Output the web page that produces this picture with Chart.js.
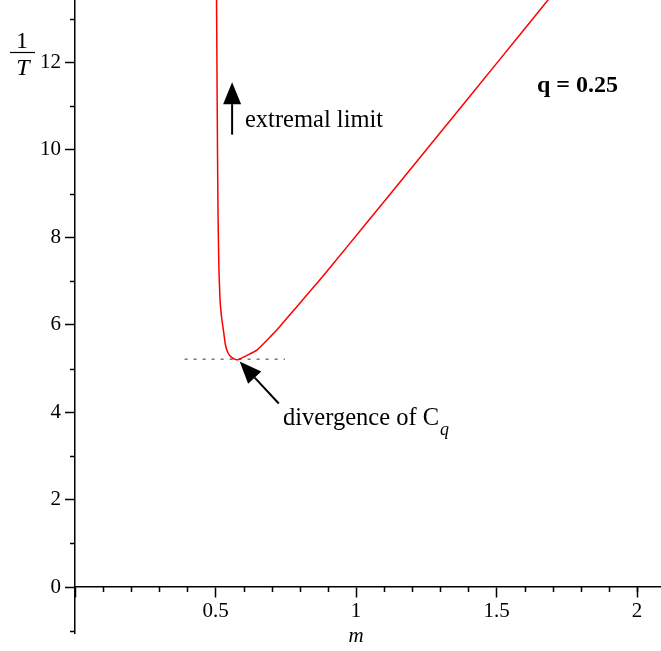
<!DOCTYPE html>
<html>
<head>
<meta charset="utf-8">
<script src="https://cdn.jsdelivr.net/npm/chart.js@4/dist/chart.umd.min.js"></script>
<style>
  html, body { margin: 0; padding: 0; background: #fff; }
  #wrap { width: 661px; height: 651px; }
</style>
</head>
<body>
<div id="wrap"><canvas id="plot"></canvas></div>
<script>
// curve 1/T against m for q = 0.25
const mValues = [0.503, 0.505, 0.507, 0.509, 0.512, 0.516, 0.522, 0.528, 0.535, 0.545, 0.558, 0.57, 0.58,
                 0.647, 0.718, 0.79, 0.87, 0.97, 1.1, 1.3, 1.5, 1.683, 1.76];
const invTValues = [14.0, 12.0, 10.0, 8.5, 7.3, 6.57, 6.15, 5.88, 5.55, 5.35, 5.25, 5.21, 5.2,
                    5.42, 5.88, 6.42, 7.02, 7.8, 8.82, 10.4, 11.98, 13.43, 14.04];

// dotted level of the minimum
const levelM = [0.39, 0.747];
const levelT = [5.21, 5.21];

// axis ticks
const xMajorTicks = [0.5, 1, 1.5, 2];
const xMinorTicks = [0.1, 0.2, 0.3, 0.4, 0.6, 0.7, 0.8, 0.9, 1.1, 1.2, 1.3, 1.4, 1.6, 1.7, 1.8, 1.9, 2.0];
const yMinorTicks = [-1, 1, 3, 5, 7, 9, 11, 13];

const serif = '"Liberation Serif", "DejaVu Serif", serif';

const toPoints = (xs, ys) => xs.map((x, i) => ({ x: x, y: ys[i] }));

function arrow(ctx, x1, y1, x2, y2, headLen, headW) {
    // shaft from (x1,y1) to tip (x2,y2)
    const a = Math.atan2(y2 - y1, x2 - x1);
    const bx = x2 - headLen * Math.cos(a), by = y2 - headLen * Math.sin(a);
    ctx.beginPath();
    ctx.moveTo(x1, y1);
    ctx.lineTo(bx, by);
    ctx.lineWidth = 2;
    ctx.strokeStyle = '#000';
    ctx.stroke();
    ctx.beginPath();
    ctx.moveTo(x2, y2);
    ctx.lineTo(bx + headW / 2 * Math.sin(a), by - headW / 2 * Math.cos(a));
    ctx.lineTo(bx - headW / 2 * Math.sin(a), by + headW / 2 * Math.cos(a));
    ctx.closePath();
    ctx.fillStyle = '#000';
    ctx.fill();
}

const extras = {
    id: 'extras',
    afterDraw(chart) {
        const ctx = chart.ctx;
        const xs = chart.scales.x, ys = chart.scales.y;
        const x0 = xs.getPixelForValue(0), y0 = ys.getPixelForValue(0);
        ctx.save();

        // minor ticks
        ctx.strokeStyle = '#000';
        ctx.lineWidth = 1.5;
        ctx.beginPath();
        xMinorTicks.forEach(v => {
            const px = Math.round(xs.getPixelForValue(v)) + 0.5;
            ctx.moveTo(px, y0); ctx.lineTo(px, y0 + 5);
        });
        yMinorTicks.forEach(v => {
            const py = Math.round(ys.getPixelForValue(v)) + 0.5;
            ctx.moveTo(x0, py); ctx.lineTo(x0 - 5, py);
        });
        ctx.stroke();

        // axis titles
        ctx.fillStyle = '#000';
        ctx.textAlign = 'center';
        ctx.textBaseline = 'alphabetic';
        ctx.font = 'italic 21px ' + serif;
        ctx.fillText('m', xs.getPixelForValue(1), 642);
        ctx.font = '24px ' + serif;
        ctx.fillText('1', 22, 48);
        ctx.beginPath();
        ctx.moveTo(10, 52.5); ctx.lineTo(35, 52.5);
        ctx.lineWidth = 1.2;
        ctx.stroke();
        ctx.font = 'italic 24px ' + serif;
        ctx.fillText('T', 23, 75);

        // annotations
        arrow(ctx, xs.getPixelForValue(0.559), ys.getPixelForValue(10.35),
              xs.getPixelForValue(0.559), ys.getPixelForValue(11.55), 22, 18);
        arrow(ctx, xs.getPixelForValue(0.725), ys.getPixelForValue(4.2),
              xs.getPixelForValue(0.586), ys.getPixelForValue(5.16), 22, 18);

        ctx.textAlign = 'left';
        ctx.font = '24.5px ' + serif;
        ctx.fillText('extremal limit', 245, 127);
        const t = 'divergence of C';
        ctx.fillText(t, 283, 425);
        const w = ctx.measureText(t).width;
        ctx.font = 'italic 18px ' + serif;
        ctx.fillText('q', 283 + w + 1, 435);
        ctx.font = 'bold 24px ' + serif;
        ctx.fillText('q = 0.25', 537, 92);
        ctx.restore();
    }
};

new Chart(document.getElementById('plot'), {
    type: 'scatter',
    data: {
        datasets: [{
            data: toPoints(mValues, invTValues),
            showLine: true,
            borderColor: '#ff0000',
            borderWidth: 1.5,
            pointRadius: 0,
            tension: 0.1
        }, {
            data: toPoints(levelM, levelT),
            showLine: true,
            borderColor: '#777',
            borderWidth: 1.5,
            borderDash: [3, 6],
            pointRadius: 0
        }]
    },
    options: {
        responsive: true,
        maintainAspectRatio: false,
        animation: false,
        layout: { padding: { left: 0, right: 0, top: 0, bottom: 18 } },
        plugins: { legend: { display: false }, tooltip: { enabled: false } },
        scales: {
            x: {
                type: 'linear',
                min: 0,
                max: 2.085,
                position: { y: 0 },
                afterFit: s => { s.paddingLeft = 0; s.paddingRight = 0; },
                grid: { drawOnChartArea: false, tickLength: 10, tickColor: '#000', tickWidth: 1.5 },
                border: { display: true, color: '#000', width: 1.5 },
                ticks: {
                    stepSize: 0.5,
                    includeBounds: false,
                    autoSkip: false,
                    maxRotation: 0,
                    padding: 2,
                    color: '#000',
                    font: { family: serif, size: 21 },
                    callback: v => xMajorTicks.includes(v) ? String(v) : ''
                }
            },
            y: {
                type: 'linear',
                min: -1.05,
                max: 13.43,
                position: 'left',
                afterFit: s => { s.width = 75; s.paddingTop = 0; s.paddingBottom = 0; },
                grid: { drawOnChartArea: false, tickLength: 10, tickColor: '#000', tickWidth: 1.5 },
                border: { display: true, color: '#000', width: 1.5 },
                ticks: {
                    stepSize: 2,
                    includeBounds: false,
                    autoSkip: false,
                    padding: 4,
                    color: '#000',
                    font: { family: serif, size: 21 }
                }
            }
        }
    },
    plugins: [extras]
});
</script>
</body>
</html>
